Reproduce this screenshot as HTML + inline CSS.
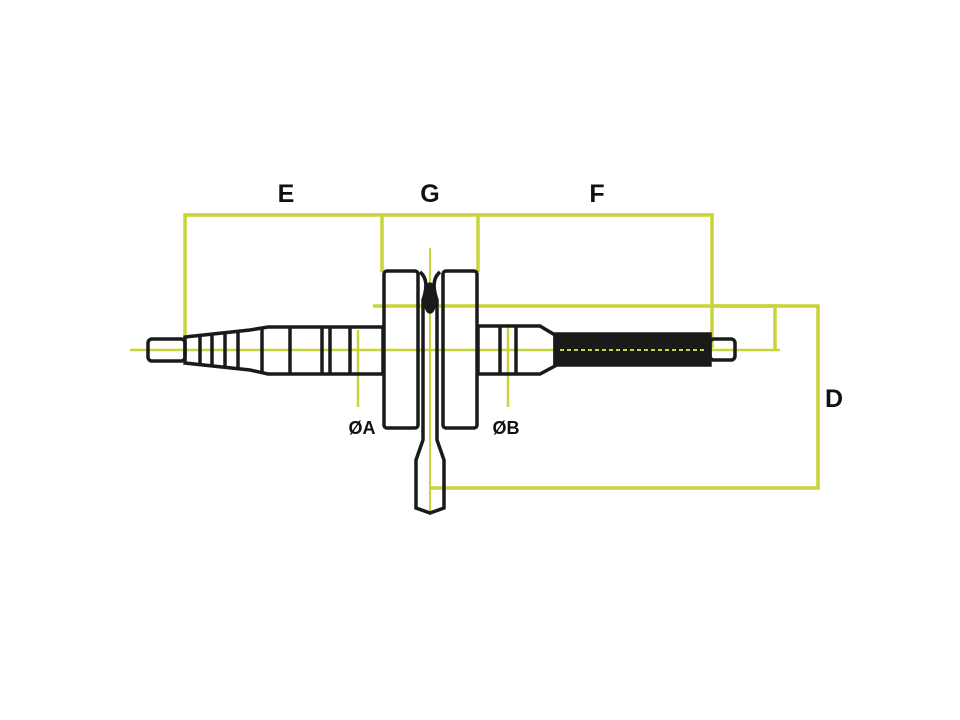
<!DOCTYPE html>
<html><head><style>
html,body{margin:0;padding:0;background:#fff;width:960px;height:720px;overflow:hidden}
svg{display:block}
text{font-family:"Liberation Sans",sans-serif;font-weight:bold;fill:#111}
</style></head><body>
<svg width="960" height="720" viewBox="0 0 960 720">
<g stroke="#c8d43a" stroke-width="3.5" fill="none">
<polyline points="185,335 185,215 712,215 712,348"/>
<line x1="382" y1="215" x2="382" y2="272"/>
<line x1="478" y1="215" x2="478" y2="272"/>
<polyline points="373,306 818,306 818,488 430,488"/>
<polyline points="712,306 775,306 775,350"/>
<line x1="130" y1="350" x2="780" y2="350" stroke-width="2.5"/>
<line x1="430" y1="248" x2="430" y2="515" stroke-width="2"/>
<line x1="358" y1="330" x2="358" y2="407" stroke-width="2.5"/>
<line x1="508" y1="325" x2="508" y2="407" stroke-width="2.5"/>
</g>
<g stroke="#1a1a1a" stroke-width="3.5" fill="none">
<rect x="148" y="339" width="37" height="22" rx="4"/>
<path d="M185,337 L250,330 L268,327 L383,327 L383,374 L268,374 L250,370 L185,363 Z"/>
<line x1="200" y1="336" x2="200" y2="364"/><line x1="212" y1="335" x2="212" y2="365"/>
<line x1="225" y1="334" x2="225" y2="366"/><line x1="238" y1="332" x2="238" y2="368"/>
<line x1="262" y1="328" x2="262" y2="372"/><line x1="290" y1="327" x2="290" y2="374"/>
<line x1="322" y1="327" x2="322" y2="374"/><line x1="330" y1="327" x2="330" y2="374"/>
<line x1="350" y1="327" x2="350" y2="374"/>
<rect x="384" y="271" width="34" height="157" rx="3"/>
<rect x="443" y="271" width="34" height="157" rx="3"/>
<path d="M420,272 Q430,280 423,300 L423,440 L416,460 L416,508 L430,513 L444,508 L444,460 L437,440 L437,300 Q430,280 440,272"/>
<ellipse cx="430" cy="298" rx="5" ry="14" fill="#1a1a1a"/>
<path d="M478,326 L540,326 L555,335 L555,366 L540,374 L478,374 Z"/>
<line x1="500" y1="326" x2="500" y2="374"/>
<line x1="516" y1="326" x2="516" y2="374"/>
<rect x="555" y="334" width="155" height="31" fill="#1a1a1a"/>
<rect x="710" y="339" width="25" height="21" rx="4"/>
</g>
<line x1="560" y1="350" x2="705" y2="350" stroke="#c8d43a" stroke-width="2" stroke-dasharray="4 3"/>
<text x="286" y="202" font-size="25" text-anchor="middle">E</text>
<text x="430" y="202" font-size="25" text-anchor="middle">G</text>
<text x="597" y="202" font-size="25" text-anchor="middle">F</text>
<text x="834" y="407" font-size="25" text-anchor="middle">D</text>
<text x="362" y="434" font-size="18" text-anchor="middle">ØA</text>
<text x="506" y="434" font-size="18" text-anchor="middle">ØB</text>
</svg>
</body></html>
